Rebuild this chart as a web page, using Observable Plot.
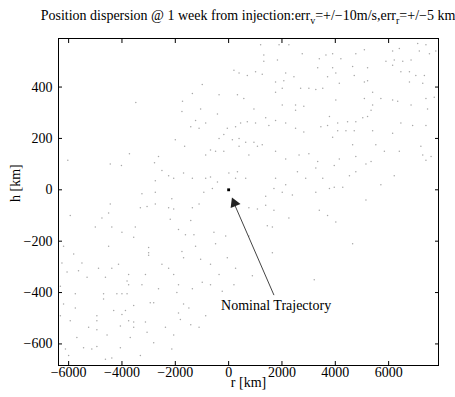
<!DOCTYPE html>
<html><head><meta charset="utf-8">
<script src="https://cdn.jsdelivr.net/npm/d3@7"></script>
<script src="https://cdn.jsdelivr.net/npm/@observablehq/plot@0.6"></script>
<style>body{margin:0;background:#fff} svg text{font-family:"Liberation Serif","DejaVu Serif",serif !important}</style>
</head><body><div id="chart"></div>
<script>
// Monte-Carlo dispersion points (r [km], h [km])
const rKm = [-3480,-1730,-1750,-2000,-1650,-3720,-2630,-4440,-4020,-2780,-2500,-2250,-2060,-2750,-1690,-3250,-2750,-2130,-6030,
1200,1890,2260,2760,1320,1320,1830,200,390,700,1010,1260,2140,2450,1760,2070,-990,2010,2700,3010,-1360,-360,330,1760,570,2010,2510,2820,-1050,950,2510,-420,1390,1760,-1240,-1420,-1110,-860,-50,260,450,700,1010,1510,2140,2510,2820,-180,-360,140,390,640,950,1080,1260,390,-680,-490,-860,-180,760,1760,2140,2640,3010,10,330,-860,-680,-420,-1360,260,640,1760,2580,2890,2140,1700,2010,2390,-930,-610,1390,
3400,3650,3900,4210,4770,5090,6150,6400,7090,7150,7400,7530,7770,6210,6530,6840,5900,3340,3900,4650,5210,6150,6460,6780,7020,7340,3710,4020,4710,5090,5210,4150,6780,7280,3270,3530,5400,4020,5090,5710,6150,6340,7400,7710,5400,6840,7460,5340,5030,5210,3780,3710,4090,4460,4770,6460,6900,7400,3460,4090,4400,4710,5400,3900,6150,4650,5520,7210,5840,6400,7280,7590,4770,4150,7400,3340,3960,5150,5340,3270,4770,4530,6210,3530,5710,3780,3960,4280,3270,5150,
-4440,-3310,-3060,-2750,-2250,-2060,-5940,-4750,-4500,-2190,-5000,-4380,-3500,-1880,-4000,-3560,-1620,-4500,-6190,-3000,-3000,-1750,-5810,-3000,-1690,-5500,-6250,-4130,-2500,-4880,-4380,-2250,-5630,-6060,-3120,-3750,-2060,-5310,-4620,-3810,-3750,-3250,-6310,-2630,-1880,-5750,-4690,-4190,-4000,-3810,-1940,-4690,-2940,-2810,-6190,-5750,-3560,-1690,-4310,-3870,-4940,-4000,-1880,-6310,-5940,-4940,-3750,-3560,-3120,-1810,-5250,-4940,-4060,-3560,-2370,-4560,-3060,-2060,-5690,-3690,-2810,-5440,-5130,-6120,-4940,-4060,-2130,-6000,-4620,-3310,-4380,
-1360,-1110,760,1080,1390,1700,2260,1450,1640,-1420,-550,-1300,-110,760,-490,-1240,1640,-1050,-50,-680,260,-360,890,-990,-680,200,-1360,-240,-1490,-860,-1420,-1110,
3400,3710,4020,4650,3210];
const hKm = [340,345,305,195,170,140,130,100,95,105,75,55,45,35,65,-15,-10,-35,115,
565,565,565,530,525,500,505,465,455,445,460,450,455,440,420,425,410,395,395,395,375,370,370,380,355,330,330,325,315,315,310,295,280,270,270,245,240,260,240,245,260,265,260,250,260,240,225,215,200,195,200,185,185,170,175,170,155,150,135,150,135,150,120,135,140,65,70,45,50,30,45,45,45,45,70,45,20,5,-10,-20,-10,5,-25,
510,525,530,510,530,545,540,550,570,540,565,530,540,505,500,505,500,475,475,480,475,485,460,460,445,445,440,455,445,420,425,415,420,415,390,395,380,350,355,355,350,345,355,360,330,330,315,310,280,285,285,250,260,265,265,260,250,250,245,230,230,230,230,205,220,175,175,170,150,150,135,130,130,120,115,110,95,100,110,85,70,55,55,45,20,5,10,10,-10,-40,
-55,-70,-65,-55,-70,-75,-100,-110,-90,-115,-145,-145,-145,-155,-165,-185,-175,-220,-220,-225,-245,-240,-250,-255,-265,-285,-285,-290,-290,-305,-305,-305,-315,-320,-330,-330,-330,-340,-340,-355,-370,-370,-375,-385,-370,-405,-405,-405,-405,-405,-400,-425,-440,-440,-445,-460,-450,-445,-470,-470,-490,-485,-480,-490,-510,-510,-510,-515,-515,-505,-535,-545,-530,-535,-535,-565,-555,-565,-575,-575,-595,-615,-620,-620,-610,-615,-620,-645,-660,-645,-655,
-70,-55,-70,-75,-60,-80,-110,-140,-145,-120,-165,-175,-180,-180,-210,-220,-245,-270,-265,-290,-305,-330,-335,-360,-370,-370,-385,-395,-460,-490,-525,-535,
-80,-100,-125,-210,-350];

const xTicks = [-6000,-4000,-2000,0,2000,4000,6000];
const yTicks = [-600,-400,-200,0,200,400];
const xDomain = [-6380, 7870];
const yDomain = [-684, 589];
const nominalR = [0], nominalH = [0];
const annotationText = ["Nominal Trajectory"];
const arrowFrom = [1700, -410], arrowTo = [150, -40];
const arrowHeadAt = [215, -52];
const labelAt = [1780, -450];
const xLabel = "r [km]", yLabel = "h [km]";
const titleMain = "Position dispersion @ 1 week from injection:err";
const titleSub1 = "v", titleMid = "=+/\u221210m/s,err", titleSub2 = "r", titleEnd = "=+/\u22125 km";

const points = rKm.map((r, i) => ({r, h: hKm[i]}));
const nominal = nominalR.map((r, i) => ({r, h: nominalH[i]}));
const FONT = "'Liberation Serif', 'DejaVu Serif', serif";
const FS = 14;
const fmt = d => (d < 0 ? "\u2212" + Math.abs(d) : String(d));

const chart = Plot.plot({
  width: 455, height: 397,
  marginTop: 38, marginBottom: 32, marginLeft: 58, marginRight: 17,
  style: {fontFamily: FONT, fontSize: FS + "px", color: "black", background: "white"},
  x: {domain: xDomain, ticks: xTicks, tickFormat: fmt},
  y: {domain: yDomain, ticks: yTicks, tickFormat: fmt},
  marks: [
    Plot.dot(points, {x: "r", y: "h", r: 0.75, fill: "#a8a8a8", stroke: null}),
    Plot.dot(nominal, {x: "r", y: "h", r: 1.6, symbol: "square", fill: "black", stroke: null}),
    Plot.link([{x1: arrowFrom[0], y1: arrowFrom[1], x2: arrowTo[0], y2: arrowTo[1]}],
      {x1: "x1", y1: "y1", x2: "x2", y2: "y2", stroke: "#444", strokeWidth: 1}),
    Plot.dot([{x: arrowHeadAt[0], y: arrowHeadAt[1]}],
      {x: "x", y: "y", symbol: "triangle", r: 4, rotate: -23, fill: "#222", stroke: null}),
    Plot.text(annotationText, {x: () => labelAt[0], y: () => labelAt[1], text: d => d, fontSize: FS, fill: "black"}),
    Plot.frame({stroke: "black", strokeWidth: 1}),
    Plot.axisX(xTicks, {anchor: "bottom", tickSize: -4, text: null, label: null}),
    Plot.axisX(xTicks, {anchor: "top", tickSize: -4, text: null, label: null}),
    Plot.axisY(yTicks, {anchor: "left", tickSize: -4, text: null, label: null}),
    Plot.axisY(yTicks, {anchor: "right", tickSize: -4, text: null, label: null}),
    Plot.axisX(xTicks, {anchor: "bottom", tickSize: 0, tickPadding: 2, tickFormat: fmt, label: null}),
    Plot.axisY(yTicks, {anchor: "left", tickSize: 0, tickPadding: 6, tickFormat: fmt, label: null}),
    Plot.text([xLabel], {frameAnchor: "bottom", dy: 21, text: d => d, fontSize: FS}),
    Plot.text([yLabel], {frameAnchor: "left", dx: -43, rotate: -90, text: d => d, fontSize: FS})
  ]
});
document.getElementById("chart").append(chart);

// title with subscripts
const svg = d3.select(chart);
const t = svg.append("text")
  .attr("x", 248).attr("y", 20)
  .attr("text-anchor", "middle")
  .attr("font-size", FS).attr("fill", "black");
t.append("tspan").text(titleMain);
t.append("tspan").attr("font-size", 10).attr("dy", 4).text(titleSub1);
t.append("tspan").attr("dy", -4).text(titleMid);
t.append("tspan").attr("font-size", 10).attr("dy", 4).text(titleSub2);
t.append("tspan").attr("dy", -4).text(titleEnd);
</script>
</body></html>
